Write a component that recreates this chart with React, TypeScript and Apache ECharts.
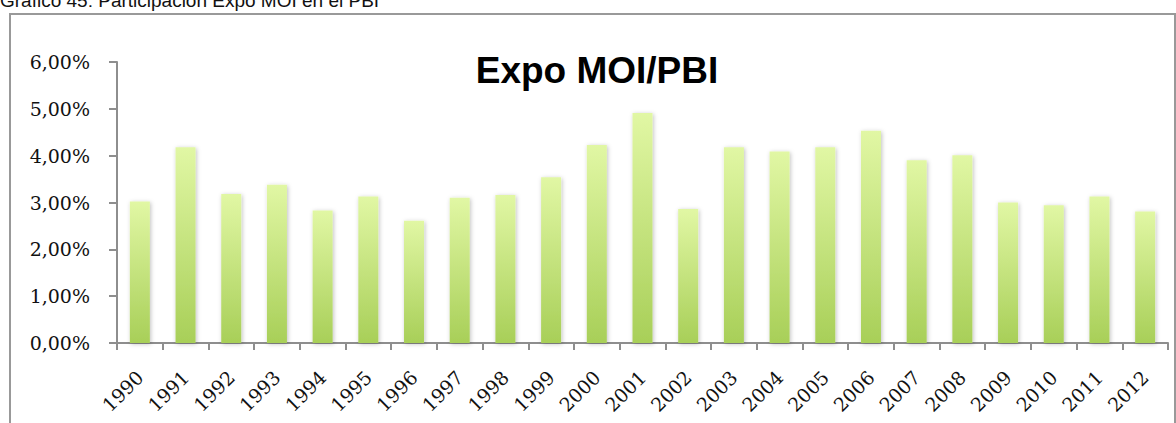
import React, { useEffect, useRef } from "react";
import * as echarts from "echarts";

const years = ["1990","1991","1992","1993","1994","1995","1996","1997","1998","1999","2000","2001","2002","2003","2004","2005","2006","2007","2008","2009","2010","2011","2012"];
const expoMoiPbi = [3.02, 4.18, 3.18, 3.38, 2.83, 3.13, 2.61, 3.10, 3.16, 3.54, 4.23, 4.91, 2.86, 4.18, 4.09, 4.18, 4.53, 3.90, 4.01, 3.00, 2.94, 3.13, 2.81];
const headerText = "Gráfico 45: Participación Expo MOI en el PBI";
const chartTitle = "Expo MOI/PBI";

export default function App() {
  const ref = useRef<HTMLDivElement>(null);
  useEffect(() => {
    document.body.style.margin = "0";
    const chart = echarts.init(ref.current!, null, { renderer: "svg" });
    const axisColor = "#8e8e8e";
    chart.setOption({
      animation: false,
      backgroundColor: "#ffffff",
      grid: { left: 117, right: 8, top: 62, bottom: 80, containLabel: false },
      xAxis: {
        type: "category",
        data: years,
        axisLine: { show: true, lineStyle: { color: axisColor, width: 2 } },
        axisTick: { show: true, length: 7, lineStyle: { color: axisColor, width: 2 } },
        axisLabel: {
          rotate: 45,
          margin: 31,
          fontFamily: "DejaVu Serif",
          fontSize: 19,
          color: "#111",
        },
        splitLine: { show: false },
      },
      yAxis: {
        type: "value",
        min: 0,
        max: 6,
        interval: 1,
        axisLine: { show: true, lineStyle: { color: axisColor, width: 2 } },
        axisTick: { show: true, length: 8, lineStyle: { color: axisColor, width: 2 } },
        axisLabel: {
          margin: 27,
          fontFamily: "DejaVu Serif",
          fontSize: 19,
          color: "#111",
          formatter: (v: number) => v.toFixed(2).replace(".", ",") + "%",
        },
        splitLine: { show: false },
      },
      series: [
        {
          type: "bar",
          data: expoMoiPbi,
          barWidth: 20,
          itemStyle: {
            color: new echarts.graphic.LinearGradient(0, 0, 0, 1, [
              { offset: 0, color: "#e1f7a4" },
              { offset: 1, color: "#a8cf58" },
            ]),
            shadowBlur: 4,
            shadowColor: "rgba(0,0,0,0.25)",
            shadowOffsetX: 1,
            shadowOffsetY: 1,
          },
        },
      ],
      graphic: [
        {
          type: "rect",
          shape: { x: 10, y: 14, width: 1165, height: 430 },
          style: { fill: "none", stroke: "#999999", lineWidth: 2 },
          z: 0,
        },
        {
          type: "text",
          x: 0,
          y: 10,
          style: {
            text: headerText,
            fontFamily: "Liberation Sans",
            fontSize: 19,
            fill: "#111",
            textVerticalAlign: "bottom",
          },
        },
        {
          type: "text",
          x: 597,
          y: 70,
          style: {
            text: chartTitle,
            fontFamily: "Liberation Sans",
            fontWeight: "bold",
            fontSize: 37,
            fill: "#000",
            textAlign: "center",
            textVerticalAlign: "middle",
          },
        },
      ],
    });
    return () => chart.dispose();
  }, []);
  return <div ref={ref} style={{ position: "fixed", left: 0, top: 0, width: 1176, height: 423 }} />;
}
